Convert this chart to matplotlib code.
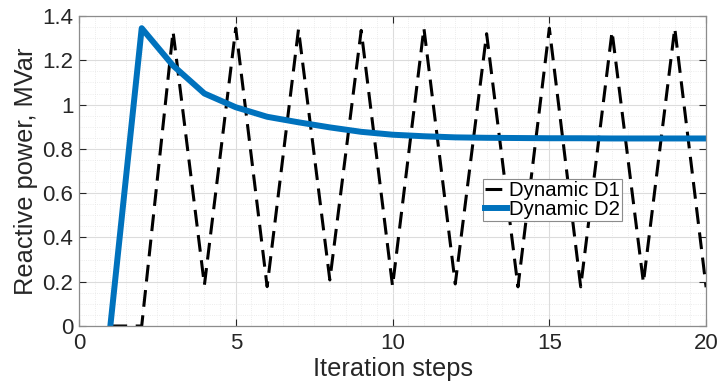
import matplotlib.pyplot as plt
import numpy as np
from matplotlib.ticker import MultipleLocator

plt.rcParams['font.family'] = ['Liberation Sans', 'DejaVu Sans']

# Data
steps = list(range(1, 21))
d1 = [0, 0, 1.33, 0.185, 1.345, 0.178, 1.34, 0.208, 1.335, 0.18,
      1.345, 0.19, 1.32, 0.177, 1.345, 0.177, 1.33, 0.196, 1.345, 0.175]
d2 = [0, 1.345, 1.176, 1.05, 0.988, 0.945, 0.92, 0.897, 0.877, 0.864,
      0.857, 0.852, 0.85, 0.849, 0.848, 0.848, 0.847, 0.847, 0.847, 0.847]

fig = plt.figure(figsize=(7.22, 3.86), dpi=100)
ax = fig.add_axes([0.1094, 0.1554, 0.8686, 0.8031])

ax.plot(steps, d1, color='black', linewidth=2.2, linestyle='--',
        dashes=(5.5, 2.8), label='Dynamic D1')
ax.plot(steps, d2, color='#0072BD', linewidth=4.3, label='Dynamic D2')

ax.set_xlim(0, 20)
ax.set_ylim(0, 1.4)
ax.xaxis.set_major_locator(MultipleLocator(5))
ax.xaxis.set_minor_locator(MultipleLocator(0.5))
ax.yaxis.set_minor_locator(MultipleLocator(0.05))
ax.set_yticks(np.arange(0, 1.41, 0.2))
ax.set_yticklabels(['0', '0.2', '0.4', '0.6', '0.8', '1', '1.2', '1.4'])

ax.grid(which='major', color='#dcdcdc', linewidth=0.8)
ax.grid(which='minor', color='#e6e6e6', linewidth=0.6, linestyle=':')
ax.set_axisbelow(True)

ax.tick_params(which='both', direction='in', top=True, right=True,
               labelsize=16, colors='#262626')
ax.tick_params(which='major', length=5)
ax.tick_params(which='minor', length=0)
ax.tick_params(axis='x', pad=5)
ax.tick_params(axis='y', pad=4)
for s in ax.spines.values():
    s.set_color('#8c8c8c')
    s.set_linewidth(0.9)

ax.set_xlabel('Iteration steps', fontsize=18.3, color='#262626', labelpad=2)
ax.set_ylabel('Reactive power, MVar', fontsize=18.3, color='#262626', labelpad=3)

leg = ax.legend(loc='upper left', bbox_to_anchor=(0.644, 0.475), fontsize=14.7,
                handlelength=1.1, handletextpad=0.1, borderpad=0.1,
                labelspacing=0.0, borderaxespad=0, fancybox=False,
                framealpha=1, edgecolor='#8c8c8c')
leg.get_frame().set_linewidth(0.8)

plt.savefig('out.png', dpi=100)
